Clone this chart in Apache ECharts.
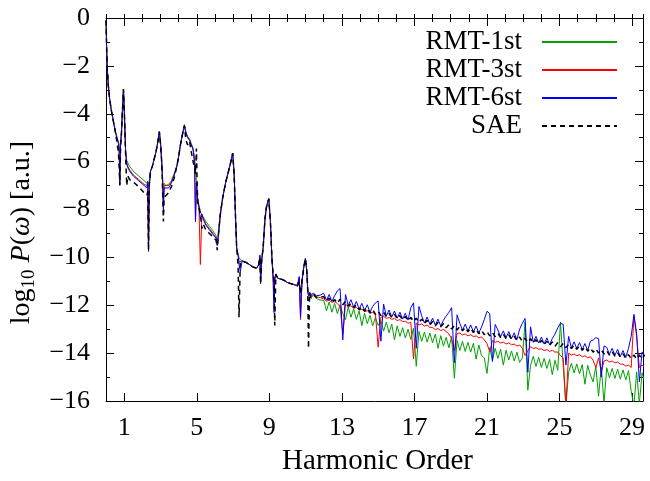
<!DOCTYPE html>
<html>
<head>
<meta charset="utf-8">
<script src="https://cdn.jsdelivr.net/npm/echarts@6/dist/echarts.min.js"></script>
<style>
  html, body { margin: 0; padding: 0; background: #fff; }
  #chart { width: 650px; height: 481px; }
</style>
</head>
<body>
<div id="chart"></div>
<script>
// harmonic order grid (shared by all series)
const order = [
  0.00, 0.03, 0.06, 0.12, 0.20, 0.30, 0.40, 0.50, 0.60, 0.68,
  0.72, 0.76, 0.80, 0.85, 0.90, 0.96, 1.02, 1.08, 1.14, 1.20,
  1.30, 1.50, 1.80, 2.10, 2.25, 2.30, 2.34, 2.38, 2.45, 2.55,
  2.65, 2.75, 2.85, 2.94, 3.02, 3.08, 3.12, 3.16, 3.20, 3.30,
  3.45, 3.60, 3.75, 3.90, 4.00, 4.10, 4.20, 4.32, 4.40, 4.50,
  4.60, 4.70, 4.80, 4.88, 4.93, 4.98, 5.05, 5.12, 5.20, 5.28,
  5.35, 5.50, 5.70, 5.90, 6.07, 6.13, 6.20, 6.30, 6.43, 6.60,
  6.75, 6.88, 6.98, 7.06, 7.14, 7.20, 7.28, 7.33, 7.40, 7.50,
  7.70, 7.90, 8.10, 8.30, 8.42, 8.48, 8.52, 8.58, 8.66, 8.76,
  8.84, 8.97, 9.06, 9.14, 9.20, 9.26, 9.30, 9.36, 9.46, 9.60,
  9.80, 10.00, 10.20, 10.40, 10.55, 10.65, 10.72, 10.80, 10.90, 10.99,
  11.07, 11.12, 11.16, 11.22, 11.30, 11.45, 11.60, 11.80,
  12.00, 12.15, 12.30, 12.45, 12.60, 12.75, 12.90, 13.05, 13.20, 13.35,
  13.50, 13.65, 13.80, 13.95, 14.10, 14.25, 14.40, 14.55, 14.70, 14.85,
  15.00, 15.15, 15.30, 15.45, 15.60, 15.75, 15.90, 16.05, 16.20, 16.35,
  16.50, 16.65, 16.80, 16.95, 17.10, 17.25, 17.40, 17.55, 17.70, 17.85,
  18.00, 18.15, 18.30, 18.45, 18.60, 18.75, 18.90, 19.05, 19.20, 19.35,
  19.50, 19.65, 19.80, 19.95, 20.10, 20.25, 20.40, 20.55, 20.70, 20.85,
  21.00, 21.15, 21.30, 21.45, 21.60, 21.75, 21.90, 22.05, 22.20, 22.35,
  22.50, 22.65, 22.80, 22.95, 23.10, 23.25, 23.40, 23.55, 23.70, 23.85,
  24.00, 24.15, 24.30, 24.45, 24.60, 24.75, 24.90, 25.05, 25.20, 25.35,
  25.50, 25.65, 25.80, 25.95, 26.10, 26.25, 26.40, 26.55, 26.70, 26.85,
  27.00, 27.15, 27.30, 27.45, 27.60, 27.75, 27.90, 28.05, 28.20, 28.35,
  28.50, 28.65, 28.80, 28.95, 29.10, 29.25, 29.40, 29.55, 29.70
]

// log10 P(w)
const rmt1 = [
  -0.10, -1.20, -2.00, -2.80, -3.40, -3.90, -4.30, -4.70, -5.00, -5.15,
  -5.30, -5.60, -5.20, -4.80, -3.90, -2.97, -4.20, -5.60, -5.95, -6.05,
  -6.20, -6.40, -6.60, -6.80, -6.90, -6.80, -9.40, -7.00, -6.40, -6.20,
  -5.90, -5.60, -5.20, -4.75, -5.40, -6.20, -6.70, -7.60, -6.90, -7.00,
  -6.95, -6.80, -6.50, -6.20, -5.80, -5.30, -4.90, -4.45, -4.75, -4.95,
  -5.05, -5.25, -5.45, -5.95, -6.30, -6.80, -7.50, -7.80, -8.10, -8.10,
  -8.30, -8.50, -8.70, -8.90, -9.10, -9.40, -9.00, -8.20, -7.50, -6.85,
  -6.40, -6.00, -5.65, -6.50, -8.40, -9.60, -9.90, -10.00, -10.10, -10.15,
  -10.20, -10.30, -10.40, -10.45, -10.30, -10.00, -10.80, -10.10, -9.60, -8.40,
  -7.90, -7.55, -8.50, -10.00, -10.60, -11.20, -10.85, -10.70, -10.87, -10.90,
  -10.95, -11.05, -11.10, -11.15, -11.20, -10.90, -12.20, -11.00, -10.40, -10.05,
  -10.60, -11.40, -11.55, -11.55, -11.65, -11.60, -11.72, -11.78,
  -11.80, -12.23, -11.86, -12.29, -11.92, -12.35, -11.98, -12.35, -12.60, -12.07,
  -12.50, -12.15, -12.59, -12.24, -12.85, -12.33, -12.77, -12.42, -12.86, -12.51,
  -12.85, -12.64, -13.08, -12.71, -13.15, -12.79, -13.45, -12.86, -13.30, -12.94,
  -13.37, -13.00, -13.43, -12.95, -14.55, -13.09, -13.51, -13.12, -13.54, -13.16,
  -13.57, -13.20, -13.80, -13.27, -13.71, -13.34, -13.78, -13.30, -15.05, -13.47,
  -13.89, -13.51, -13.93, -13.55, -13.96, -13.59, -14.25, -13.66, -14.10, -14.20,
  -14.85, -13.77, -14.30, -13.80, -14.22, -13.84, -14.50, -13.88, -14.29, -13.91,
  -14.33, -13.96, -14.39, -14.20, -12.70, -15.55, -14.51, -14.13, -14.56, -14.18,
  -14.60, -14.22, -14.64, -14.26, -14.90, -14.30, -14.72, -12.70, -14.50, -16.20,
  -14.80, -14.42, -14.83, -14.45, -14.86, -14.48, -15.30, -14.51, -14.92, -15.20,
  -14.55, -15.80, -14.58, -16.10, -14.61, -15.03, -14.64, -15.06, -14.67, -15.09,
  -14.70, -15.12, -14.73, -15.60, -16.20, -14.78, -16.10, -14.82, -15.25
]

const rmt3 = [
  -0.10, -1.20, -2.00, -2.80, -3.40, -3.90, -4.30, -4.70, -5.00, -5.20,
  -5.40, -6.60, -5.30, -4.80, -3.90, -2.97, -4.20, -5.60, -6.05, -6.20,
  -6.35, -6.55, -6.75, -6.95, -7.00, -6.85, -9.60, -7.00, -6.40, -6.20,
  -5.90, -5.60, -5.20, -4.75, -5.40, -6.20, -6.80, -7.90, -7.00, -7.05,
  -7.00, -6.85, -6.55, -6.20, -5.80, -5.30, -4.90, -4.50, -4.80, -5.00,
  -5.10, -5.30, -5.50, -6.00, -8.50, -6.90, -7.60, -7.90, -10.30, -8.20,
  -8.35, -8.60, -8.80, -9.00, -9.20, -9.50, -9.00, -8.20, -7.50, -6.85,
  -6.40, -6.00, -5.65, -6.50, -8.40, -9.60, -9.90, -10.20, -10.20, -10.15,
  -10.20, -10.30, -10.40, -10.45, -10.30, -9.95, -10.90, -10.10, -9.60, -8.40,
  -7.90, -7.55, -8.50, -10.00, -10.70, -11.50, -10.90, -10.70, -10.87, -10.90,
  -10.95, -11.05, -11.10, -11.15, -11.20, -10.85, -12.60, -11.00, -10.40, -10.05,
  -10.60, -11.45, -11.60, -11.50, -11.60, -11.55, -11.65, -11.68,
  -11.74, -11.83, -11.79, -11.88, -11.84, -11.93, -12.05, -13.20, -11.95, -12.06,
  -12.02, -12.12, -12.09, -12.20, -12.17, -12.26, -12.23, -12.33, -12.30, -12.38,
  -13.75, -12.50, -12.46, -12.55, -12.51, -12.59, -12.55, -12.64, -12.60, -12.68,
  -12.67, -12.75, -12.71, -14.25, -12.74, -12.82, -12.78, -12.87, -12.83, -12.92,
  -12.93, -13.02, -12.97, -13.06, -13.01, -13.10, -13.20, -13.40, -13.90, -13.18,
  -13.16, -13.24, -13.20, -13.28, -13.23, -13.31, -13.28, -13.36, -13.32, -13.45,
  -13.60, -13.95, -13.47, -13.55, -13.50, -13.58, -13.54, -13.62, -13.57, -13.65,
  -13.62, -13.70, -13.66, -13.80, -14.10, -13.90, -13.73, -13.81, -13.77, -13.84,
  -13.82, -13.90, -13.85, -13.93, -13.88, -13.96, -13.95, -14.10, -14.20, -16.20,
  -14.00, -14.08, -14.04, -14.11, -14.07, -14.15, -14.11, -14.19, -14.15, -14.30,
  -14.60, -14.20, -14.80, -14.33, -14.29, -14.37, -14.33, -14.41, -14.37, -14.46,
  -14.46, -14.54, -14.50, -14.60, -12.45, -13.30, -14.60, -14.50, -14.60
]

const rmt6 = [
  -0.10, -1.20, -2.00, -2.80, -3.40, -3.90, -4.30, -4.70, -5.00, -5.25,
  -5.60, -6.95, -5.30, -4.80, -3.90, -2.97, -4.20, -5.60, -6.10, -6.25,
  -6.40, -6.60, -6.80, -7.00, -7.10, -6.85, -9.75, -7.00, -6.40, -6.20,
  -5.90, -5.60, -5.20, -4.75, -5.40, -6.20, -6.90, -8.10, -7.10, -7.15,
  -7.10, -6.90, -6.60, -6.20, -5.80, -5.30, -4.90, -4.50, -4.80, -5.00,
  -5.10, -5.30, -5.50, -6.00, -8.50, -6.90, -7.60, -7.90, -8.40, -8.20,
  -8.40, -8.65, -8.85, -9.05, -9.20, -9.50, -9.00, -8.20, -7.50, -6.85,
  -6.40, -6.00, -5.65, -6.50, -8.40, -9.60, -9.90, -10.30, -10.60, -10.15,
  -10.20, -10.30, -10.40, -10.45, -10.30, -9.90, -11.10, -10.10, -9.60, -8.40,
  -7.90, -7.55, -8.50, -10.00, -10.80, -12.30, -10.90, -10.70, -10.87, -10.90,
  -10.95, -11.05, -11.10, -11.15, -11.15, -10.80, -12.50, -11.00, -10.40, -10.05,
  -10.60, -11.40, -11.60, -11.45, -11.55, -11.50, -11.60, -11.58,
  -11.50, -11.79, -11.55, -11.84, -11.60, -11.40, -11.30, -13.45, -11.55, -12.00,
  -11.77, -12.08, -11.84, -12.16, -11.92, -12.22, -11.98, -12.29, -12.05, -11.90,
  -11.82, -13.50, -11.95, -12.45, -12.20, -12.49, -12.24, -12.54, -12.29, -12.58,
  -12.33, -12.62, -12.10, -11.90, -13.80, -12.05, -12.44, -12.74, -12.49, -12.79,
  -12.54, -12.83, -12.58, -12.87, -12.62, -12.45, -12.30, -12.10, -14.40, -12.40,
  -12.75, -13.04, -12.79, -13.08, -12.82, -13.11, -12.87, -13.16, -12.91, -12.60,
  -12.25, -12.35, -14.35, -12.80, -13.03, -13.32, -13.07, -13.36, -13.10, -13.39,
  -13.15, -13.44, -13.00, -12.75, -12.55, -14.80, -12.90, -13.55, -13.30, -13.58,
  -13.33, -13.62, -13.36, -13.65, -13.39, -13.20, -12.95, -12.75, -12.80, -14.50,
  -13.30, -13.78, -13.53, -13.81, -13.56, -13.85, -13.60, -13.89, -13.50, -13.45,
  -13.35, -13.40, -15.00, -13.70, -13.76, -14.05, -13.80, -14.09, -13.84, -14.14,
  -13.89, -14.18, -13.80, -13.30, -12.38, -13.20, -15.20, -13.95, -14.05
]

const sae = [
  -0.10, -1.20, -2.00, -2.80, -3.40, -3.90, -4.30, -4.70, -5.20, -5.60,
  -6.20, -7.00, -5.40, -4.80, -3.90, -2.97, -4.20, -5.80, -7.00, -6.60,
  -6.75, -6.85, -7.05, -7.30, -7.40, -7.25, -9.70, -7.00, -6.40, -6.20,
  -5.90, -5.60, -5.20, -4.75, -5.40, -6.20, -7.30, -8.50, -7.50, -7.45,
  -7.30, -7.05, -6.70, -6.20, -5.80, -5.30, -4.90, -4.50, -5.10, -5.30,
  -5.15, -5.60, -5.60, -6.30, -6.50, -5.45, -7.80, -7.90, -8.20, -8.80,
  -8.60, -8.85, -9.00, -9.15, -9.30, -9.70, -9.00, -8.20, -7.50, -6.85,
  -6.40, -6.00, -5.65, -6.50, -8.40, -9.60, -10.40, -12.50, -10.20, -10.15,
  -10.20, -10.30, -10.40, -10.45, -10.30, -10.00, -11.10, -10.10, -9.60, -8.40,
  -7.90, -7.55, -8.50, -10.00, -10.60, -11.00, -12.85, -10.70, -10.87, -10.90,
  -10.95, -11.05, -11.10, -11.15, -11.20, -11.00, -11.50, -11.00, -10.40, -10.05,
  -10.60, -11.40, -13.80, -11.50, -11.70, -11.55, -11.68, -11.64,
  -11.64, -11.82, -11.70, -11.88, -11.76, -11.92, -11.74, -11.98, -11.84, -12.04,
  -11.92, -12.10, -11.98, -12.19, -12.06, -12.25, -12.12, -12.32, -12.18, -12.38,
  -12.25, -12.43, -12.29, -12.48, -12.34, -12.52, -12.38, -12.57, -12.43, -12.61,
  -12.47, -12.65, -12.51, -12.68, -12.54, -12.72, -12.58, -12.77, -12.63, -12.82,
  -12.68, -12.86, -12.72, -12.90, -12.76, -12.94, -12.81, -12.99, -12.85, -13.03,
  -12.89, -13.07, -12.93, -13.11, -12.96, -13.14, -13.01, -13.19, -13.05, -13.23,
  -13.10, -13.28, -13.14, -13.31, -13.17, -13.35, -13.21, -13.39, -13.24, -13.42,
  -13.29, -13.47, -13.33, -13.51, -13.37, -13.55, -13.40, -13.58, -13.44, -13.61,
  -13.47, -13.65, -13.50, -13.68, -13.53, -13.71, -13.56, -13.74, -13.59, -13.77,
  -13.63, -13.81, -13.67, -13.84, -13.70, -13.88, -13.74, -13.92, -13.78, -13.96,
  -13.82, -14.00, -13.86, -14.04, -13.90, -14.08, -13.94, -14.12, -13.98, -14.17,
  -14.03, -14.21, -14.06, -14.23, -14.08, -14.25, -14.08, -14.24, -14.07
]

const xLabels = [1, 5, 9, 13, 17, 21, 25, 29]
const seriesNames = ['RMT-1st', 'RMT-3st', 'RMT-6st', 'SAE']

const font = 'Liberation Serif'
const pts = ys => order.map((x, i) => [x, ys[i]])

const mychart = echarts.init(document.getElementById('chart'))

// shared x axis pieces (gnuplot style: ticks inside, mirrored on top)
const xBase = {
  type: 'value',
  min: 0,
  max: 29.6,
  splitLine: { show: false },
  axisLine: { show: true, onZero: false, lineStyle: { color: '#000', width: 1 } }
}

const option = {
  animation: false,
  backgroundColor: '#fff',
  grid: { left: 106, right: 7, top: 18, bottom: 75, containLabel: false },
  legend: {
    orient: 'vertical',
    right: 27,
    top: 23,
    align: 'right',
    itemWidth: 75,
    itemHeight: 10,
    itemGap: 0,
    data: seriesNames,
    itemStyle: { opacity: 0 },
    textStyle: { fontFamily: font, fontSize: 27, color: '#000', lineHeight: 28, padding: [0, 15, 0, 0] }
  },
  xAxis: [
    {
      ...xBase,
      position: 'bottom',
      name: 'Harmonic Order',
      nameLocation: 'middle',
      nameGap: 46,
      nameTextStyle: { fontFamily: font, fontSize: 29, color: '#000', padding: [0, 0, 0, 6] },
      axisTick: { show: true, inside: true, length: 8, customValues: xLabels, lineStyle: { color: '#000' } },
      axisLabel: { show: true, customValues: xLabels, margin: 14, fontFamily: font, fontSize: 26, color: '#000' }
    },
    {
      ...xBase,
      position: 'bottom',
      interval: 1,
      axisLine: { show: false },
      axisTick: { show: true, inside: true, length: 4, lineStyle: { color: '#000' } },
      axisLabel: { show: false }
    },
    {
      ...xBase,
      position: 'top',
      axisTick: { show: true, inside: true, length: 8, customValues: xLabels, lineStyle: { color: '#000' } },
      axisLabel: { show: false }
    },
    {
      ...xBase,
      position: 'top',
      interval: 1,
      axisLine: { show: false },
      axisTick: { show: true, inside: true, length: 4, lineStyle: { color: '#000' } },
      axisLabel: { show: false }
    }
  ],
  yAxis: [
    {
      type: 'value',
      min: -16,
      max: 0,
      interval: 2,
      position: 'left',
      name: '{t|log}{s|10}{t| }{i|P}{t|(}{i|ω}{t|) [a.u.]}',
      nameLocation: 'middle',
      nameGap: 66,
      nameRotate: 90,
      nameTextStyle: {
        color: '#000',
        padding: [0, 46, 0, 0],
        rich: {
          t: { fontFamily: font, fontSize: 28, color: '#000' },
          s: { fontFamily: font, fontSize: 19, color: '#000', padding: [14, 0, 0, 0] },
          i: { fontFamily: font, fontSize: 28, fontStyle: 'italic', color: '#000' }
        }
      },
      splitLine: { show: false },
      axisLine: { show: true, onZero: false, lineStyle: { color: '#000', width: 1 } },
      axisTick: { show: true, inside: true, length: 8, lineStyle: { color: '#000' } },
      minorTick: { show: true, splitNumber: 2, length: 4, lineStyle: { color: '#000' } },
      axisLabel: {
        margin: 16,
        fontFamily: font,
        fontSize: 26,
        color: '#000',
        formatter: v => (v === 0 ? '0' : '\u2212' + Math.abs(v))
      }
    },
    {
      type: 'value',
      min: -16,
      max: 0,
      interval: 2,
      position: 'right',
      splitLine: { show: false },
      axisLine: { show: true, onZero: false, lineStyle: { color: '#000', width: 1 } },
      axisTick: { show: true, inside: true, length: 8, lineStyle: { color: '#000' } },
      minorTick: { show: true, splitNumber: 2, length: 4, lineStyle: { color: '#000' } },
      axisLabel: { show: false }
    }
  ],
  series: [
    {
      name: 'RMT-1st',
      type: 'line',
      data: pts(rmt1),
      symbol: 'none',
      lineStyle: { color: '#00a000', width: 1 },
      itemStyle: { color: '#00a000' }
    },
    {
      name: 'RMT-3st',
      type: 'line',
      data: pts(rmt3),
      symbol: 'none',
      lineStyle: { color: '#ff0000', width: 1 },
      itemStyle: { color: '#ff0000' }
    },
    {
      name: 'RMT-6st',
      type: 'line',
      data: pts(rmt6),
      symbol: 'none',
      lineStyle: { color: '#0000ff', width: 1 },
      itemStyle: { color: '#0000ff' }
    },
    {
      name: 'SAE',
      type: 'line',
      data: pts(sae),
      symbol: 'none',
      lineStyle: { color: '#000', width: 1.5, type: [5, 4] },
      itemStyle: { color: '#000' }
    }
  ]
}

mychart.setOption(option)
</script>
</body>
</html>
